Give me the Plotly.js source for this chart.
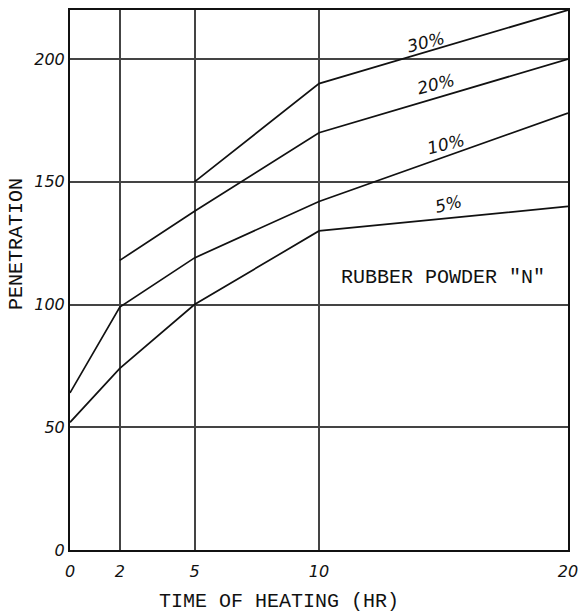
<!DOCTYPE html>
<html>
<head>
<meta charset="utf-8">
<script src="https://cdn.plot.ly/plotly-3.0.1.min.js"></script>
<style>html,body{margin:0;padding:0;background:#fff;}#chart{width:578px;height:614px;}</style>
</head>
<body>
<div id="chart"></div>
<script>
const hours5 = [0, 2, 5, 10, 20];
const pen5 = [52, 74, 100, 130, 140];
const hours10 = [0, 2, 5, 10, 20];
const pen10 = [64, 99, 119, 142, 178];
const hours20 = [2, 5, 10, 20];
const pen20 = [118, 138, 170, 200];
const hours30 = [5, 10, 20];
const pen30 = [150, 190, 220];
const seriesLabels = ["5%", "10%", "20%", "30%"];
const xTicks = [0, 2, 5, 10, 20];
const xTickText = ["0", "2", "5", "10", "20"];
const yTicks = [0, 50, 100, 150, 200];
const yTickText = ["0", "50", "100", "150", "200"];
const xTitle = "TIME OF HEATING (HR)";
const yTitle = "PENETRATION";

const lineStyle = {color: "#111", width: 1.7};
const data = [
  {x: hours5, y: pen5, name: seriesLabels[0]},
  {x: hours10, y: pen10, name: seriesLabels[1]},
  {x: hours20, y: pen20, name: seriesLabels[2]},
  {x: hours30, y: pen30, name: seriesLabels[3]}
].map(t => Object.assign(t, {type: "scatter", mode: "lines", line: lineStyle, hoverinfo: "skip"}));

const monoFont = {family: "Liberation Mono", size: 20, color: "#111"};
const labelPos = [[15.2, 140.8], [15.1, 165.3], [14.7, 189.8], [14.3, 207]];
const annotations = seriesLabels.map((s, i) => ({
  x: labelPos[i][0], y: labelPos[i][1], xref: "x", yref: "y", text: s, showarrow: false,
  textangle: -14, font: {family: "DejaVu Sans", size: 17, style: "italic", color: "#111"}
}));
annotations.push({
  x: 14.96, y: 111, xref: "x", yref: "y", text: 'RUBBER POWDER "N"', showarrow: false,
  font: monoFont
});
annotations.push({
  x: 0.42, y: -0.096, xref: "paper", yref: "paper", text: xTitle, showarrow: false,
  xanchor: "center", yanchor: "middle", font: monoFont
});
annotations.push({
  x: -0.106, y: 0.567, xref: "paper", yref: "paper", text: yTitle, showarrow: false,
  textangle: -90, xanchor: "center", yanchor: "middle", font: monoFont
});

const layout = {
  width: 578, height: 614,
  margin: {l: 70, r: 10, t: 10, b: 64},
  paper_bgcolor: "#fff", plot_bgcolor: "#fff",
  showlegend: false,
  xaxis: {
    range: [0, 20], tickvals: xTicks, ticktext: xTickText,
    showgrid: true, gridcolor: "#444", gridwidth: 2,
    zeroline: false, showline: true, linecolor: "#111", linewidth: 2, mirror: true,
    ticks: "", ticklen: 0, ticklabeloverflow: "allow", ticklabelstandoff: 6,
    tickfont: {family: "DejaVu Sans", size: 16, style: "italic", color: "#111"}
  },
  yaxis: {
    range: [0, 220], tickvals: yTicks, ticktext: yTickText,
    showgrid: true, gridcolor: "#444", gridwidth: 2,
    zeroline: false, showline: true, linecolor: "#111", linewidth: 2, mirror: true,
    ticks: "", ticklen: 0,
    tickfont: {family: "DejaVu Sans", size: 16, style: "italic", color: "#111"}
  },
  annotations: annotations
};
Plotly.newPlot("chart", data, layout, {displayModeBar: false, staticPlot: true});
</script>
</body>
</html>
